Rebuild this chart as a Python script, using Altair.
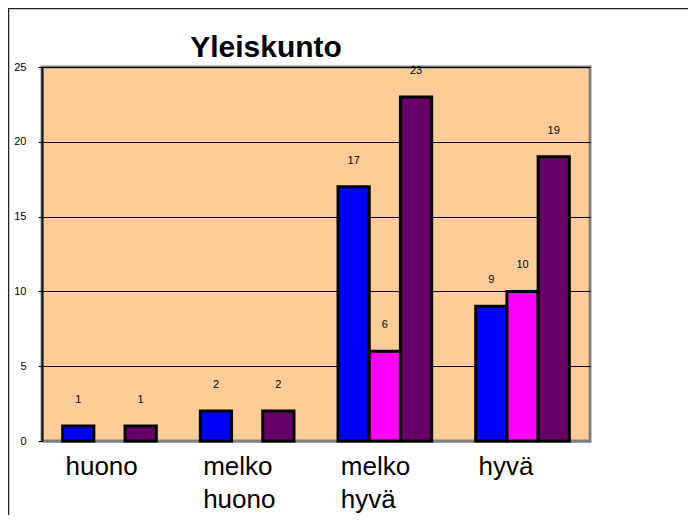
import altair as alt
import pandas as pd

categories = ["huono", "melko huono", "melko hyvä", "hyvä"]
series = ["Sarja 1", "Sarja 2", "Yhteensä"]
colors = ["#0000FF", "#FF00FF", "#660066"]
values_s1 = [1, 2, 17, 9]
values_s2 = [None, None, 6, 10]
values_s3 = [1, 2, 23, 19]
y_ticks = [0, 5, 10, 15, 20, 25]

rows = []
for name, vals in zip(series, [values_s1, values_s2, values_s3]):
    for cat, v in zip(categories, vals):
        if v is not None:
            rows.append({"category": cat, "series": name, "value": v})
df = pd.DataFrame(rows)

FONT = "Liberation Sans"

x_enc = alt.X(
    "category:N",
    sort=categories,
    scale=alt.Scale(domain=categories, paddingInner=0.32, paddingOuter=0.15),
    axis=alt.Axis(
        title=None,
        labelAngle=0,
        labelAlign="left",
        labelBaseline="top",
        labelOffset=-44,
        labelExpr="split(datum.label, ' ')",
        labelFont=FONT,
        labelFontSize=26,
        labelLineHeight=33,
        labelPadding=12,
        labelColor="black",
        labelOverlap=False,
        ticks=False,
        domainColor="#808080",
        domainWidth=2,
        grid=False,
    ),
)
xoff_enc = alt.XOffset(
    "series:N", sort=series, scale=alt.Scale(domain=series, paddingInner=0, paddingOuter=0)
)
y_enc = alt.Y(
    "value:Q",
    scale=alt.Scale(domain=[0, 25], nice=False),
    axis=alt.Axis(
        title=None,
        values=y_ticks,
        tickSize=4,
        tickColor="black",
        tickWidth=1,
        domainColor="#111111",
        domainWidth=2,
        grid=True,
        gridColor="black",
        gridWidth=1,
        labelFont=FONT,
        labelFontSize=11,
        labelColor="black",
        labelPadding=12,
    ),
)

base = alt.Chart(df).encode(x=x_enc, xOffset=xoff_enc, y=y_enc)

bars = base.mark_bar(stroke="black", strokeWidth=3).encode(
    color=alt.Color("series:N", scale=alt.Scale(domain=series, range=colors), legend=None)
)
labels = base.mark_text(dy=-26, fontSize=11, font=FONT, baseline="middle", color="black").encode(
    text="value:Q"
)

frame_df = pd.DataFrame({"k": [0]})
frame_top = alt.Chart(frame_df).mark_rule(color="#222222", strokeWidth=1.5).encode(
    x=alt.value(-34), x2=alt.value(646), y=alt.value(-58.5)
)
frame_left = alt.Chart(frame_df).mark_rule(color="#222222", strokeWidth=1.5).encode(
    x=alt.value(-33.5), y=alt.value(-59), y2=alt.value(448)
)

chart = (
    alt.layer(bars, labels, frame_top, frame_left)
    .properties(
        width=548,
        height=374,
        autosize=alt.AutoSizeParams(type="none"),
        padding={"left": 34, "top": 59, "right": 98, "bottom": 74},
        title=alt.TitleParams(
            "Yleiskunto",
            font=FONT,
            fontSize=30,
            fontWeight="bold",
            color="black",
            anchor="middle",
            baseline="alphabetic",
            dx=-50,
            offset=-80,
        ),
    )
    .configure(background="white")
    .configure_view(fill="#FFCC99", stroke="#808080", strokeWidth=3)
)

chart.save("out.html", embed_options={"renderer": "svg", "actions": False})
